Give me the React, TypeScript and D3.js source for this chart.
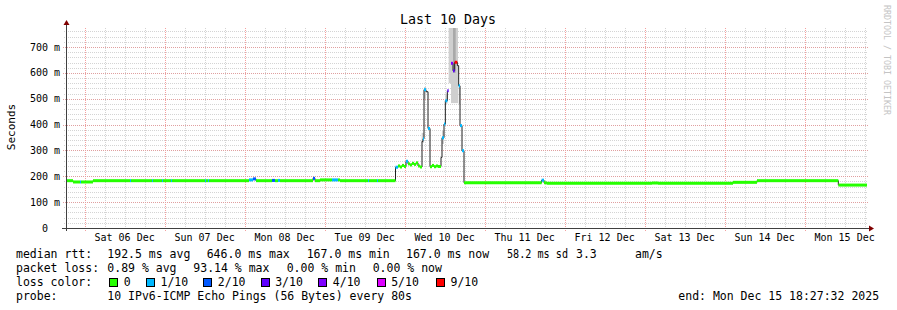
import React from "react";
import * as d3 from "d3";

// ---------- data ----------
const title = "Last 10 Days";
const yAxisLabel = "Seconds";
const watermark = "RRDTOOL / TOBI OETIKER";
const yTicks = [0, 100, 200, 300, 400, 500, 600, 700];
const yMax = 773.5; // ms
const spanHours = 240;

// median rtt, step series: hour offset from start, value in ms, loss color index (-1 = none)
const medianHours = [
  0, 1.8, 3.9, 4.2, 7.8, 18.9, 19.2, 25.5, 25.8, 28.5, 28.8, 31.2, 31.5, 41.4, 41.7, 42.3, 42.6,
  54.6, 55.8, 56.7, 61.5, 62.4, 63.3, 63.9, 73.8, 74.4, 75.9, 79.5, 81.3, 81.9, 90.3, 90.6, 93.0, 93.3,
  98.55, 99.3, 99.9, 100.5, 101.1, 101.7, 102.3, 102.9, 103.5, 104.1, 104.7, 105.3, 105.9,
  106.5, 106.8, 107.1, 107.7, 108.3, 108.9, 109.5, 110.1, 110.7, 111.3,
  112.2, 112.5, 113.1, 113.5, 114.1, 114.5, 115.2, 115.8, 116.3, 117.1, 117.5, 117.9, 118.5, 119.1,
  142.4, 143.1, 143.9, 175.5, 177.3, 199.8, 207.0, 231.4,
];
const medianMs = [
  183, 178, 178, 178, 183, 183, 183, 183, 183, 183, 183, 183, 183, 183, 183, 183, 183,
  186, 190, 183, 184, 183, 184, 183, 192, 183, 186, 186, 186, 183, 183, 183, 183, 183,
  235, 240, 236, 242, 238, 258, 248, 244, 250, 246, 252, 240, 236,
  335, 345, 535, 527, 385, 237, 242, 237, 240, 238,
  273, 349, 402, 492, 531, NaN, 637, 608, 641, 628, 550, 396, 299, 175,
  185, 175, 173, 174, 173, 176.6, 183, 166,
];
const lossIndex = [
  0, 0, 1, 0, 0, 1, 0, 1, 0, 1, 0, 1, 0, 1, 0, 1, 0,
  1, 2, 0, 2, 0, 1, 0, 2, 0, 0, 1, 0, 0, 1, 0, 1, 0,
  1, 0, 0, 0, 0, 1, 0, 0, 0, 0, 0, 0, 0,
  -1, 1, 1, -1, 1, 0, 0, 0, 0, 0,
  -1, 1, 1, 1, 3, -1, 4, 3, 6, -1, 1, 1, 1, 0,
  1, 0, 0, 0, 0, 0, 0, 0,
];

// smoke (ping spread) around the spike: start/end hour, low/high ms
const smokeStart = [106.4, 107.1, 112.5, 113.5, 114.5, 115.2, 117.5];
const smokeEnd = [107.1, 107.7, 113.1, 114.1, 115.2, 117.3, 117.9];
const smokeLow = [330, 500, 325, 480, 560, 483, 480];
const smokeHigh = [368, 545, 376, 520, 773.5, 773.5, 545];
const smokeCoreStart = [115.8];
const smokeCoreEnd = [116.6];
const smokeCoreLow = [600];
const smokeCoreHigh = [773.5];

const lossLabels = ["0", "1/10", "2/10", "3/10", "4/10", "5/10", "9/10"];
const lossColors = ["#26ff00", "#00b8ff", "#0059ff", "#5e00ff", "#7e00ff", "#dd00ff", "#ff0000"];

const legendRtt = ["median rtt:", "192.5 ms avg", "646.0 ms max", "167.0 ms min", "167.0 ms now", "58.2 ms sd", "3.3", "am/s"];
const legendLoss = ["packet loss:", "0.89 % avg", "93.14 % max", "0.00 % min", "0.00 % now"];
const legendColorLabel = "loss color:";
const legendProbe = ["probe:", "10 IPv6-ICMP Echo Pings (56 Bytes) every 80s"];
const endLabel = "end: Mon Dec 15 18:27:32 2025";

// ---------- layout ----------
const W = 897;
const H = 310;
const L = 67;
const R = 867;
const T = 28;
const B = 228;
const FONT = "DejaVu Sans Mono";

const startDate = new Date(2025, 11, 5, 18, 43, 0);
const toDate = (h: number) => new Date(startDate.getTime() + h * 3600 * 1000);
const endDate = toDate(spanHours);

export default function App() {
  const x = d3.scaleTime().domain([startDate, endDate]).range([L, R]);
  const y = d3.scaleLinear().domain([0, yMax]).range([B, T]);

  const minorX = d3.timeHour.every(6)!.range(startDate, endDate).filter((d) => d.getHours() !== 0);
  const majorX = d3.timeDay.range(startDate, endDate);
  const labelDays = majorX.map((d) => new Date(d.getTime() + 12 * 3600 * 1000)).filter((d) => d < endDate);
  const fmt = d3.timeFormat("%a %d %b");

  const minorY = d3.range(0, yMax, 20).filter((v) => v % 100 !== 0);
  const majorY = yTicks.filter((v) => v > 0);

  const pts = medianHours.map((h, i) => ({ t: toDate(h), v: medianMs[i] }));
  pts.push({ t: endDate, v: medianMs[medianMs.length - 1] });
  const line = d3
    .line<{ t: Date; v: number }>()
    .defined((d) => !isNaN(d.v))
    .x((d) => x(d.t))
    .y((d) => y(d.v))
    .curve(d3.curveStepAfter);

  const bands = medianHours.map((h, i) => {
    const h2 = i + 1 < medianHours.length ? medianHours[i + 1] : spanHours;
    return { x1: x(toDate(h)), x2: x(toDate(h2)), v: medianMs[i], c: lossIndex[i] };
  });

  const legendX1 = [16, 107.3, 206.7, 306.7, 406, 507, 576, 635];
  const legendX2 = [16, 107.3, 193.3, 286.7, 372.7];
  const boxX = [109.3, 146, 203.3, 260.7, 318.3, 376.7, 436];

  return (
    <svg
      width={W}
      height={H}
      style={{ position: "absolute", left: 0, top: 0, background: "#fff" }}
      fontFamily={FONT}
    >
      <rect x={0} y={0} width={W} height={H} fill="#fff" />
      {/* grid */}
      <g shapeRendering="crispEdges">
        {minorX.map((d, i) => (
          <line key={"mx" + i} x1={Math.round(x(d)) + 0.5} x2={Math.round(x(d)) + 0.5} y1={T} y2={B + 2} stroke="#d4d4d4" strokeDasharray="1,1" />
        ))}
        {minorY.map((v, i) => (
          <line key={"my" + i} x1={64} x2={R + 1} y1={Math.round(y(v)) + 0.5} y2={Math.round(y(v)) + 0.5} stroke="#d4d4d4" strokeDasharray="1,1" />
        ))}
        {majorX.map((d, i) => (
          <line key={"Mx" + i} x1={Math.round(x(d)) + 0.5} x2={Math.round(x(d)) + 0.5} y1={T} y2={B + 3} stroke="#f4a0a0" strokeDasharray="1,1" />
        ))}
        {majorY.map((v, i) => (
          <line key={"My" + i} x1={63} x2={R + 1} y1={Math.round(y(v)) + 0.5} y2={Math.round(y(v)) + 0.5} stroke="#e0a0a0" strokeDasharray="1,1" />
        ))}
      </g>

      {/* smoke */}
      {smokeStart.map((s, i) => (
        <rect key={"s" + i} x={x(toDate(s))} width={x(toDate(smokeEnd[i])) - x(toDate(s))} y={y(smokeHigh[i])} height={y(smokeLow[i]) - y(smokeHigh[i])} fill="#cfcfcf" />
      ))}
      {smokeCoreStart.map((s, i) => (
        <rect key={"sc" + i} x={x(toDate(s))} width={x(toDate(smokeCoreEnd[i])) - x(toDate(s))} y={y(smokeCoreHigh[i])} height={y(smokeCoreLow[i]) - y(smokeCoreHigh[i])} fill="#a9a9a9" />
      ))}

      {/* median line */}
      <path d={line(pts) || ""} fill="none" stroke="#202020" strokeWidth={1} />
      {bands
        .filter((b) => b.c >= 0 && !isNaN(b.v))
        .map((b, i) => (
          <rect key={"b" + i} x={b.x1} width={Math.max(1, b.x2 - b.x1)} y={y(b.v) - 1.5} height={3} fill={lossColors[b.c]} />
        ))}

      {/* axes */}
      <g shapeRendering="crispEdges" stroke="#404040">
        <line x1={62} x2={R + 2} y1={B + 0.5} y2={B + 0.5} />
        <line x1={L - 0.5} x2={L - 0.5} y1={T - 4} y2={B + 3} />
      </g>
      <path d={`M${L - 3.5},${T - 3} L${L + 2.5},${T - 3} L${L - 0.5},${T - 8} Z`} fill="#800000" />
      <path d={`M${R + 2},${B - 2.5} L${R + 2},${B + 3.5} L${R + 7},${B + 0.5} Z`} fill="#800000" />

      {/* y tick labels */}
      {yTicks.map((v) => (
        <text key={"yl" + v} x={v === 0 ? 48 : 60} y={y(v)} dy="0.36em" textAnchor="end" fontSize={10} fill="#000">
          {v === 0 ? "0" : `${v} m`}
        </text>
      ))}
      {/* x labels */}
      {labelDays.map((d, i) => (
        <text key={"xl" + i} x={x(d)} y={241} textAnchor="middle" fontSize={10} fill="#000">
          {fmt(d)}
        </text>
      ))}

      {/* title & axis label */}
      <text x={448} y={24} textAnchor="middle" fontSize={13.3} fill="#000">
        {title}
      </text>
      <text transform="translate(15,127) rotate(-90)" textAnchor="middle" fontSize={11} fill="#000">
        {yAxisLabel}
      </text>
      <text transform="translate(883.5,5) rotate(90)" fontSize={8.3} fill="#c4c4c4">
        {watermark}
      </text>

      {/* legend */}
      <g fontSize={11.5} fill="#000" style={{ whiteSpace: "pre" }}>
        {legendRtt.map((s, i) => (
          <text key={"r" + i} x={legendX1[i]} y={258} {...(i === 5 ? { textLength: 61, lengthAdjust: "spacingAndGlyphs" } : {})}>
            {s}
          </text>
        ))}
        {legendLoss.map((s, i) => (
          <text key={"l" + i} x={legendX2[i]} y={272}>{s}</text>
        ))}
        <text x={16} y={286}>{legendColorLabel}</text>
        {lossLabels.map((s, i) => (
          <g key={"c" + i}>
            <rect x={boxX[i] + 0.5} y={278.5} width={8} height={8} fill={lossColors[i]} stroke="#000" strokeWidth={1} shapeRendering="crispEdges" />
            <text x={boxX[i] + 14.5} y={286}>{s}</text>
          </g>
        ))}
        <text x={16} y={300}>{legendProbe[0]}</text>
        <text x={107.3} y={300}>{legendProbe[1]}</text>
        <text x={678.3} y={300}>{endLabel}</text>
      </g>
    </svg>
  );
}
